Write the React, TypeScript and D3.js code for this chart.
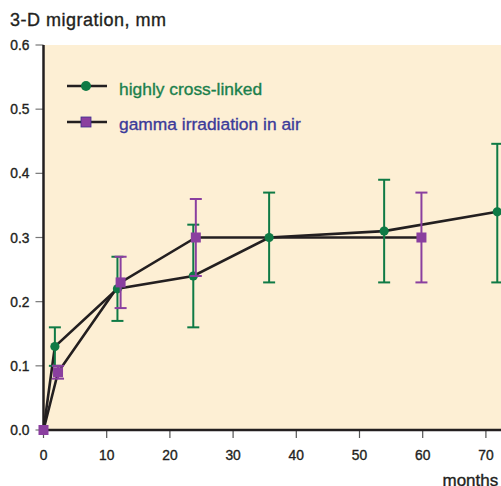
import React from "react";
import * as d3 from "d3";

const hxlMonths = [0, 1.8, 11.7, 23.7, 35.7, 53.9, 71.8];
const hxlValues = [0, 0.13, 0.22, 0.24, 0.3, 0.31, 0.34];
const hxlLow = [0, 0.1, 0.17, 0.16, 0.23, 0.23, 0.23];
const hxlHigh = [0, 0.16, 0.27, 0.32, 0.37, 0.39, 0.446];

const gamMonths = [0, 2.3, 12.2, 24.1, 59.8];
const gamValues = [0, 0.09, 0.23, 0.3, 0.3];
const gamLow = [0, 0.08, 0.19, 0.24, 0.23];
const gamHigh = [0, 0.1, 0.27, 0.36, 0.37];

const xTicks = [0, 10, 20, 30, 40, 50, 60, 70];
const yTicks = [0, 0.1, 0.2, 0.3, 0.4, 0.5, 0.6];

const seriesNames = ["highly cross-linked", "gamma irradiation in air"];

const W = 501;
const H = 486;
const GREEN = "#0f7a45";
const GREEN_TEXT = "#1b7f4c";
const PURPLE = "#8a3f9f";
const BLUE_TEXT = "#3b3b9a";
const LINE = "#231f20";
const FONT = "'Liberation Sans', Arial, Helvetica, sans-serif";

export default function App() {
  const x = d3.scaleLinear().domain([0, 10]).range([43.5, 106.7]);
  const y = d3.scaleLinear().domain([0, 0.6]).range([430, 45]);
  const x0 = x(0);
  const xEnd = 560;

  const line = d3
    .line<[number, number]>()
    .x((d) => x(d[0]))
    .y((d) => y(d[1]));

  const hxl = hxlMonths.map((m, i) => [m, hxlValues[i]] as [number, number]);
  const gam = gamMonths.map((m, i) => [m, gamValues[i]] as [number, number]);

  const errBars = (months: number[], lo: number[], hi: number[], color: string) =>
    months.map((m, i) =>
      hi[i] - lo[i] > 0 ? (
        <g key={i} stroke={color} strokeWidth={2}>
          <line x1={x(m)} x2={x(m)} y1={y(lo[i])} y2={y(hi[i])} />
          <line x1={x(m) - 6} x2={x(m) + 6} y1={y(lo[i])} y2={y(lo[i])} />
          <line x1={x(m) - 6} x2={x(m) + 6} y1={y(hi[i])} y2={y(hi[i])} />
        </g>
      ) : null
    );

  const txt = (fill: string) => ({
    fontFamily: FONT,
    fill,
    stroke: fill,
    strokeWidth: 0.35,
  });

  return (
    <svg
      width={W}
      height={H}
      style={{ position: "absolute", left: 0, top: 0, background: "#fff" }}
    >
      <rect x={x0} y={y(0.6)} width={xEnd - x0} height={y(0) - y(0.6)} fill="#fdefd4" />

      <text x={10} y={26} fontSize={18} letterSpacing={0.5} {...txt("#231f20")}>
        3-D migration, mm
      </text>

      {yTicks.map((t) => (
        <g key={t}>
          <line x1={x0 - 8} x2={x0} y1={y(t)} y2={y(t)} stroke="#777" strokeWidth={1.2} />
          <text x={29.5} y={y(t) + 5} textAnchor="end" fontSize={13.8} {...txt("#231f20")}>
            {t.toFixed(1)}
          </text>
        </g>
      ))}

      {xTicks.map((t) => (
        <g key={t}>
          <line x1={x(t)} x2={x(t)} y1={y(0)} y2={y(0) + 8} stroke="#555" strokeWidth={1.2} />
          <text x={x(t)} y={459.5} textAnchor="middle" fontSize={13.8} {...txt("#231f20")}>
            {t}
          </text>
        </g>
      ))}
      <text x={442.5} y={486} fontSize={17} {...txt("#231f20")}>
        months
      </text>

      <line x1={x0} x2={x0} y1={y(0.6)} y2={y(0) + 1} stroke={LINE} strokeWidth={2.5} />
      <line x1={x0 - 1} x2={xEnd} y1={y(0)} y2={y(0)} stroke={LINE} strokeWidth={2.5} />

      <path d={line(hxl) || ""} fill="none" stroke={LINE} strokeWidth={2.6} />
      <path d={line(gam) || ""} fill="none" stroke={LINE} strokeWidth={2.6} />

      {errBars(hxlMonths, hxlLow, hxlHigh, GREEN)}
      {hxl.map((d, i) => (
        <circle key={i} cx={x(d[0])} cy={y(d[1])} r={4.6} fill={GREEN} />
      ))}
      {errBars(gamMonths, gamLow, gamHigh, PURPLE)}
      {gam.map((d, i) => (
        <rect key={i} x={x(d[0]) - 5} y={y(d[1]) - 5} width={10} height={10} fill={PURPLE} />
      ))}

      <g>
        <line x1={67} x2={107} y1={86} y2={86} stroke={LINE} strokeWidth={2.5} />
        <circle cx={86} cy={86} r={5} fill={GREEN} />
        <text x={119} y={94.5} fontSize={17.4} {...txt(GREEN_TEXT)}>
          {seriesNames[0]}
        </text>
        <line x1={67} x2={107} y1={122} y2={122} stroke={LINE} strokeWidth={2.5} />
        <rect x={81} y={117} width={10} height={10} fill={PURPLE} stroke="#3b2f8f" strokeWidth={0.8} />
        <text x={119} y={130} fontSize={17.4} {...txt(BLUE_TEXT)}>
          {seriesNames[1]}
        </text>
      </g>
    </svg>
  );
}
